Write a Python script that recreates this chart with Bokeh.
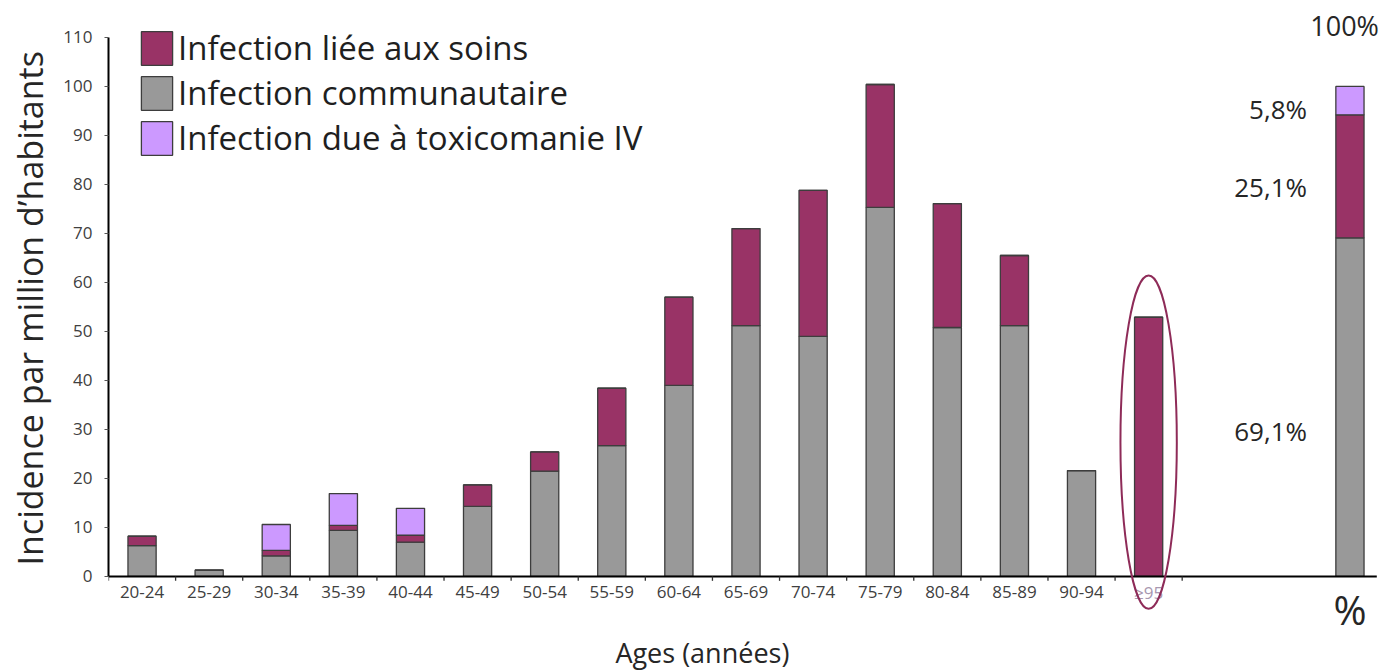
import numpy as np
from bokeh.plotting import figure
from bokeh.models import ColumnDataSource, Range1d, FixedTicker, Legend, LegendItem, Title
from bokeh.core.properties import value
from bokeh.embed import file_html
from bokeh.resources import INLINE

# ---- data ----
ages = ["20-24", "25-29", "30-34", "35-39", "40-44", "45-49", "50-54", "55-59",
        "60-64", "65-69", "70-74", "75-79", "80-84", "85-89", "90-94", "≥95"]
communautaire = [6.3, 1.3, 4.2, 9.4, 7.0, 14.3, 21.5, 26.7, 39.0, 51.2, 49.0, 75.3, 50.8, 51.2, 21.6, 0.0]
soins = [1.9, 0.0, 1.1, 1.0, 1.4, 4.4, 3.9, 11.7, 18.0, 19.8, 29.8, 25.1, 25.3, 14.3, 0.0, 52.9]
toxico = [0.0, 0.0, 5.3, 6.5, 5.5, 0.0, 0.0, 0.0, 0.0, 0.0, 0.0, 0.0, 0.0, 0.0, 0.0, 0.0]

pct_category = "%"
pct_values = [69.1, 25.1, 5.8]          # communautaire, soins, toxicomanie
pct_texts = ["69,1%", "25,1%", "5,8%"]
pct_total_text = "100%"

legend_labels = ["Infection liée aux soins", "Infection communautaire",
                 "Infection due à toxicomanie IV"]
y_ticks = list(range(0, 111, 10))
x_title = "Ages (années)"
y_title = "Incidence par million d’habitants"

FONT = "Open Sans"
C_COMM = "#999999"
C_SOINS = "#993366"
C_TOX = "#CC99FF"
C_EDGE = "#3d3d3d"
C_TEXT = "#262626"

# ---- build stacked columns ----
n = len(ages)
pct_x = n + 2
xs = list(range(n)) + [pct_x]
comm = np.array(communautaire + [pct_values[0]])
so = np.array(soins + [pct_values[1]])
tx = np.array(toxico + [pct_values[2]])
src = ColumnDataSource(dict(x=xs, b0=np.zeros(n + 1), c1=comm, s1=comm + so, t1=comm + so + tx))

p = figure(width=1383, height=670,
           x_range=Range1d(-0.5, 18.5), y_range=Range1d(-19.2, 115.5),
           output_backend="svg", toolbar_location=None, x_axis_location=None,
           min_border_left=108, min_border_right=0, min_border_top=10, min_border_bottom=0)
p.outline_line_color = None
p.xgrid.visible = False
p.ygrid.visible = False

bw = 0.42
r_c = p.vbar(x="x", bottom="b0", top="c1", width=bw, source=src,
             fill_color=C_COMM, line_color=C_EDGE, line_width=1.3)
r_s = p.vbar(x="x", bottom="c1", top="s1", width=bw, source=src,
             fill_color=C_SOINS, line_color=C_EDGE, line_width=1.3)
r_t = p.vbar(x="x", bottom="s1", top="t1", width=bw, source=src,
             fill_color=C_TOX, line_color=C_EDGE, line_width=1.3)

# x axis line, ticks, labels (drawn inside the frame so the ellipse is not clipped)
p.segment(x0=[-0.5], y0=[0], x1=[18.4], y1=[0], line_color="black", line_width=2)
bx = np.arange(n + 1) - 0.5
p.segment(x0=bx, y0=np.zeros(n + 1), x1=bx, y1=np.full(n + 1, -0.9),
          line_color="#333333", line_width=1.3)
lab_colors = ["#404040"] * (n - 1) + ["#a898b0"]
p.text(x=list(range(n)), y=[-3.2] * n, text=ages, text_align="center",
       text_baseline="middle", text_font=value(FONT), text_font_size="17px",
       text_color=lab_colors)
p.text(x=[pct_x], y=[-6.8], text=[pct_category], text_align="center",
       text_baseline="middle", text_font=value(FONT), text_font_size="40px",
       text_color=C_TEXT)
p.text(x=[8.35], y=[-15.5], text=[x_title], text_align="center",
       text_baseline="middle", text_font=value(FONT), text_font_size="27px",
       text_color=C_TEXT)

# highlight ellipse around the >=95 bar
p.ellipse(x=[n - 1], y=[27.4], width=[0.84], height=[68], fill_alpha=0,
          line_color="#8e2b58", line_width=2)

# percentage labels
p.text(x=[pct_x - 0.64] * 3, y=[29.6, 79.4, 95.3], text=pct_texts, text_align="right",
       text_baseline="middle", text_font=value(FONT), text_font_size="26px",
       text_color=C_TEXT)
p.text(x=[pct_x - 0.08], y=[112.4], text=[pct_total_text], text_align="center",
       text_baseline="middle", text_font=value(FONT), text_font_size="27px",
       text_color=C_TEXT)

# y axis
ya = p.yaxis[0]
ya.ticker = FixedTicker(ticks=y_ticks)
ya.bounds = (0, 110)
ya.major_label_text_font = FONT
ya.major_label_text_font_size = "17px"
ya.major_label_text_color = "#404040"
ya.major_label_standoff = 12
ya.axis_line_width = 2
ya.axis_line_color = "black"
ya.major_tick_out = 4
ya.major_tick_in = 0
ya.major_tick_line_color = "#555555"
ya.minor_tick_out = 0
ya.minor_tick_in = 0

# y axis title (left panel), started near the 0 tick so it is centred on the 0-110 span
p.add_layout(Title(text=y_title, align="left", offset=105, standoff=12,
                   vertical_align="top",
                   text_font=FONT, text_font_size="34px", text_font_style="normal",
                   text_color=C_TEXT), "left")

# legend
legend = Legend(items=[LegendItem(label=legend_labels[0], renderers=[r_s]),
                       LegendItem(label=legend_labels[1], renderers=[r_c]),
                       LegendItem(label=legend_labels[2], renderers=[r_t])],
                location=(29, 510), glyph_width=39, glyph_height=42, spacing=0,
                padding=0, margin=0, label_standoff=2,
                label_text_font=FONT, label_text_font_size="33px",
                label_text_color="#1f1f1f", background_fill_alpha=0,
                border_line_alpha=0)
p.add_layout(legend)

open("out.html", "w").write(file_html(p, INLINE))
